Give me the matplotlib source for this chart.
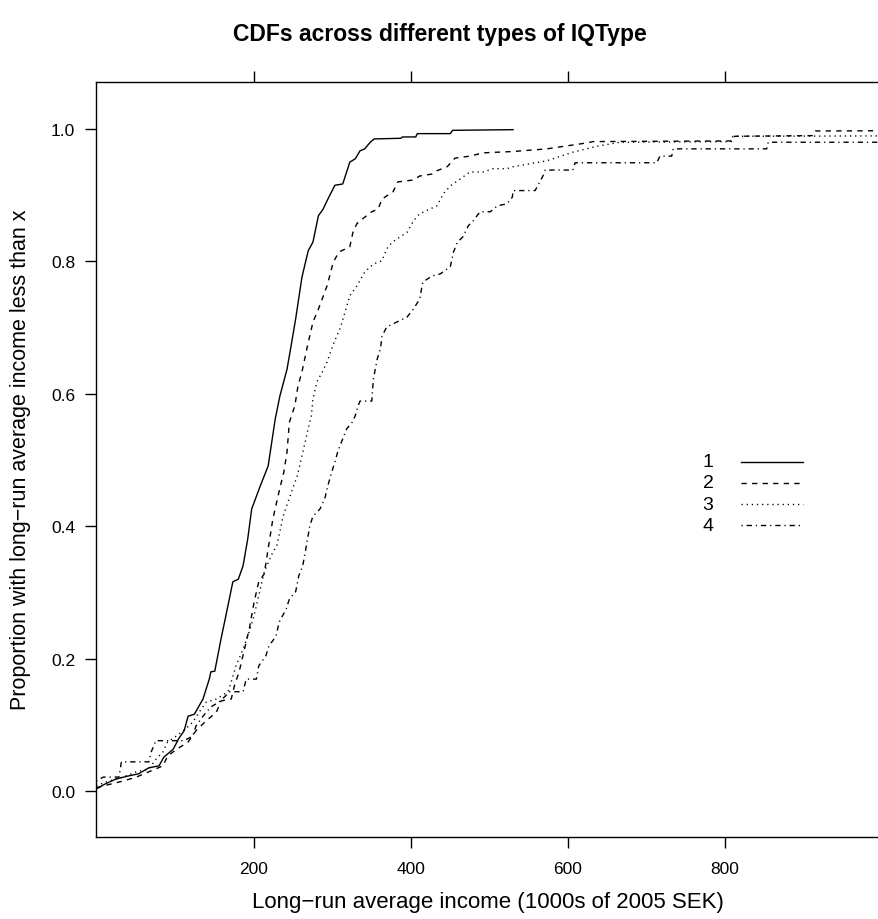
import numpy as np
import matplotlib
matplotlib.use("Agg")
import matplotlib.pyplot as plt

plt.rcParams['font.family'] = ['Liberation Sans', 'DejaVu Sans']

# ECDF points: (income, proportion) along each curve
iq1 = [(-1, 0.003), (11, 0.011), (24, 0.018), (41, 0.023), (53, 0.026), (66, 0.035),
       (79, 0.038), (85, 0.051), (97, 0.063), (104, 0.079), (111, 0.091), (116, 0.113),
       (124, 0.116), (135, 0.139), (143, 0.169), (145, 0.180), (150, 0.181), (158, 0.230),
       (164, 0.264), (173, 0.316), (180, 0.320), (186, 0.340), (192, 0.381), (197, 0.426),
       (208, 0.461), (218, 0.491), (227, 0.562), (233, 0.597), (242, 0.637), (248, 0.678),
       (253, 0.713), (261, 0.776), (269, 0.816), (275, 0.829), (282, 0.869), (288, 0.879),
       (294, 0.894), (303, 0.915), (313, 0.917), (322, 0.950), (329, 0.955), (335, 0.967),
       (341, 0.970), (348, 0.980), (353, 0.985), (387, 0.986), (389, 0.988), (406, 0.988),
       (408, 0.993), (450, 0.993), (453, 0.998), (530, 0.999)]

iq2 = [(-1, 0.005), (33, 0.015), (50, 0.021), (66, 0.029), (84, 0.038), (90, 0.053),
       (104, 0.065), (116, 0.074), (126, 0.091), (139, 0.106), (152, 0.119), (158, 0.136),
       (171, 0.139), (175, 0.159), (181, 0.180), (187, 0.210), (194, 0.245), (200, 0.285),
       (206, 0.316), (213, 0.328), (218, 0.366), (224, 0.411), (232, 0.453), (238, 0.482),
       (242, 0.512), (245, 0.557), (252, 0.582), (256, 0.612), (261, 0.633), (268, 0.672),
       (275, 0.708), (282, 0.728), (293, 0.763), (301, 0.799), (308, 0.814), (322, 0.822),
       (326, 0.844), (331, 0.857), (338, 0.864), (350, 0.875), (358, 0.879), (363, 0.894),
       (369, 0.899), (377, 0.905), (383, 0.920), (403, 0.923), (411, 0.929), (427, 0.932),
       (433, 0.937), (446, 0.943), (456, 0.956), (475, 0.959), (492, 0.964), (530, 0.966),
       (573, 0.970), (624, 0.979), (632, 0.981), (810, 0.982), (812, 0.989), (912, 0.990),
       (915, 0.997), (1150, 0.998)]

iq3 = [(-1, 0.008), (15, 0.015), (33, 0.021), (50, 0.029), (66, 0.033), (75, 0.048),
       (84, 0.059), (90, 0.074), (101, 0.083), (113, 0.094), (122, 0.104), (130, 0.119),
       (139, 0.134), (152, 0.139), (167, 0.150), (171, 0.165), (177, 0.189), (186, 0.214),
       (192, 0.234), (199, 0.260), (206, 0.295), (213, 0.331), (224, 0.361), (229, 0.370),
       (237, 0.415), (246, 0.446), (255, 0.476), (261, 0.506), (268, 0.542), (273, 0.567),
       (275, 0.592), (280, 0.618), (287, 0.633), (293, 0.648), (301, 0.675), (310, 0.700),
       (322, 0.748), (331, 0.763), (341, 0.784), (352, 0.796), (363, 0.801), (369, 0.819),
       (376, 0.829), (386, 0.837), (395, 0.844), (403, 0.861), (411, 0.872), (424, 0.879),
       (433, 0.884), (441, 0.902), (450, 0.914), (462, 0.924), (475, 0.935), (492, 0.935),
       (504, 0.940), (522, 0.940), (530, 0.943), (573, 0.952), (606, 0.965), (637, 0.974),
       (666, 0.980), (808, 0.981), (810, 0.989), (1150, 0.990)]

iq4 = [(-1, 0.015), (8, 0.021), (28, 0.021), (31, 0.044), (66, 0.044), (69, 0.059),
       (75, 0.076), (111, 0.076), (122, 0.083), (126, 0.098), (135, 0.113), (145, 0.127),
       (155, 0.134), (164, 0.144), (168, 0.150), (186, 0.150), (190, 0.169), (203, 0.169),
       (206, 0.189), (215, 0.204), (219, 0.219), (228, 0.234), (232, 0.255), (241, 0.275),
       (245, 0.290), (253, 0.301), (257, 0.325), (262, 0.340), (266, 0.366), (271, 0.400),
       (275, 0.415), (284, 0.426), (290, 0.441), (294, 0.461), (299, 0.482), (303, 0.497),
       (307, 0.514), (313, 0.532), (318, 0.547), (325, 0.557), (329, 0.567), (332, 0.580),
       (335, 0.589), (350, 0.589), (352, 0.622), (357, 0.653), (361, 0.668), (363, 0.687),
       (369, 0.701), (376, 0.705), (395, 0.716), (403, 0.728), (411, 0.743), (415, 0.769),
       (427, 0.778), (437, 0.781), (450, 0.792), (454, 0.814), (459, 0.829), (466, 0.837),
       (473, 0.854), (479, 0.861), (488, 0.875), (501, 0.875), (510, 0.884), (522, 0.887),
       (529, 0.897), (530, 0.907), (558, 0.907), (568, 0.929), (571, 0.938), (606, 0.938),
       (609, 0.949), (713, 0.949), (717, 0.959), (732, 0.959), (734, 0.970), (853, 0.970),
       (855, 0.980), (1150, 0.980)]

groups = ['1', '2', '3', '4']
curves = [iq1, iq2, iq3, iq4]
styles = ['-', (0, (3.8, 3.8)), (0, (0.9, 2.8)), (0, (0.9, 2.8, 3.8, 2.8))]

xticks = [200, 400, 600, 800]
yticks = [0.0, 0.2, 0.4, 0.6, 0.8, 1.0]

fig = plt.figure(figsize=(8.79, 9.2), dpi=100)
ax = fig.add_axes([96 / 879, 82 / 920, 801 / 879, 755 / 920])

for g, pts, ls in zip(groups, curves, styles):
    arr = np.array(pts)
    ax.plot(arr[:, 0], arr[:, 1], color='black', lw=1.0, linestyle=ls)

ax.set_xlim(-1.3, 1019)
ax.set_ylim(-0.0695, 1.071)
ax.set_xticks(xticks)
ax.set_xticklabels([str(t) for t in xticks])
ax.set_yticks(yticks)
ax.set_yticklabels([f'{t:.1f}' for t in yticks])
ax.tick_params(direction='out', length=8, width=1, top=True, right=True,
               labeltop=False, labelright=False, labelsize=12.5, pad=7)
ax.tick_params(axis='x', pad=9)
for s in ax.spines.values():
    s.set_linewidth(1.0)

# key (inside the panel, like lattice's auto.key)
key_y = [0.497, 0.469, 0.441, 0.413]
for g, ls, yy in zip(groups, styles, key_y):
    ax.text(0.764, yy, g, transform=ax.transAxes, ha='center', va='center', fontsize=14)
    ax.plot([0.805, 0.883], [yy, yy], transform=ax.transAxes, color='black',
            lw=1.0, linestyle=ls)

fig.text(0.5, 1 - 35 / 920, 'CDFs across different types of IQType',
         ha='center', va='center', fontsize=16.5, fontweight='bold')
fig.text(488 / 879, 1 - 903 / 920, 'Long\u2212run average income (1000s of 2005 SEK)',
         ha='center', va='center', fontsize=16)
fig.text(21 / 879, 1 - 460 / 920, 'Proportion with long\u2212run average income less than x',
         ha='center', va='center', rotation=90, fontsize=15.5)

fig.savefig('out.png', dpi=100)
